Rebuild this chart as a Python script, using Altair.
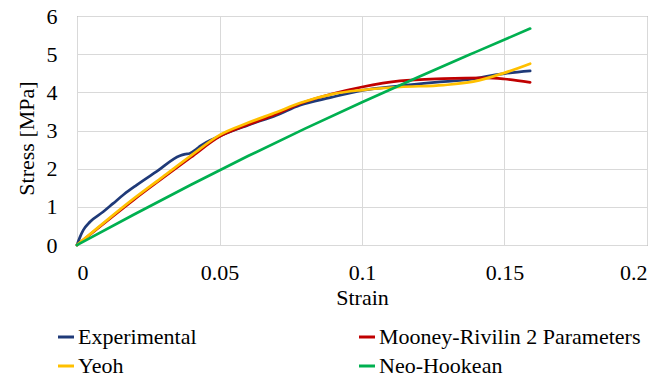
import altair as alt
import pandas as pd

# Experimental
exp_strain = [0.0, 0.001, 0.0022, 0.0046, 0.0092, 0.0127, 0.0165, 0.0209, 0.028, 0.0361, 0.038, 0.0395, 0.042, 0.0432,
              0.05, 0.06, 0.07, 0.0782, 0.0888, 0.1, 0.1133, 0.1286, 0.139, 0.1438, 0.15, 0.159]
exp_stress = [0.0, 0.2, 0.39, 0.61, 0.87, 1.09, 1.33, 1.57, 1.93, 2.34, 2.38, 2.40, 2.52, 2.59,
              2.85, 3.14, 3.40, 3.66, 3.86, 4.05, 4.17, 4.28, 4.35, 4.42, 4.49, 4.56]

# Mooney-Rivilin 2 Parameters
mr_strain = [0.0, 0.01, 0.02, 0.03, 0.04, 0.05, 0.06, 0.07, 0.0782, 0.09, 0.1, 0.1133, 0.1286, 0.1438, 0.15, 0.159]
mr_stress = [0.0, 0.60, 1.19, 1.75, 2.30, 2.84, 3.15, 3.43, 3.70, 3.97, 4.14, 4.30, 4.36, 4.38, 4.35, 4.26]

# Yeoh
ye_strain = [0.0, 0.01, 0.02, 0.03, 0.04, 0.05, 0.06, 0.07, 0.0782, 0.09, 0.1, 0.1133, 0.1286, 0.139, 0.15, 0.159]
ye_stress = [0.0, 0.62, 1.22, 1.78, 2.34, 2.88, 3.20, 3.48, 3.72, 3.96, 4.06, 4.14, 4.19, 4.28, 4.51, 4.75]

# Neo-Hookean
nh_strain = [0.0, 0.02, 0.04, 0.06, 0.08, 0.1, 0.12, 0.14, 0.159]
nh_stress = [0.0, 0.80, 1.58, 2.33, 3.05, 3.74, 4.41, 5.06, 5.67]

series = ["Experimental", "Mooney-Rivilin 2 Parameters", "Yeoh", "Neo-Hookean"]
colors = ["#1F3A78", "#C00000", "#FFC000", "#00B050"]

rows = []
for name, xs, ys in [(series[0], exp_strain, exp_stress), (series[1], mr_strain, mr_stress),
                     (series[2], ye_strain, ye_stress), (series[3], nh_strain, nh_stress)]:
    for i, (a, b) in enumerate(zip(xs, ys)):
        rows.append({"series": name, "strain": a, "stress": b, "i": i})
df = pd.DataFrame(rows)

FONT = "'Liberation Serif', 'Times New Roman', serif"
FS = 22

color = alt.Color("series:N", scale=alt.Scale(domain=series, range=colors),
                  legend=alt.Legend(title=None, orient="none", legendX=-22, legendY=310,
                                    direction="horizontal", columns=2, columnPadding=156,
                                    rowPadding=7, labelLimit=400,
                                    symbolType="stroke", symbolSize=256, symbolStrokeWidth=3,
                                    labelOffset=1, labelFont=FONT, labelFontSize=FS,
                                    labelColor="#000000", padding=0))

x = alt.X("strain:Q", scale=alt.Scale(domain=[0, 0.2], nice=False),
          axis=alt.Axis(values=[0, 0.05, 0.1, 0.15, 0.2], format="~g", title="Strain",
                        labelPadding=17, titlePadding=4))
y = alt.Y("stress:Q", scale=alt.Scale(domain=[0, 6], nice=False),
          axis=alt.Axis(values=[0, 1, 2, 3, 4, 5, 6], title="Stress [MPa]",
                        labelPadding=20, titlePadding=8, titleY=122))

layers = []
for s in series:
    layers.append(
        alt.Chart(df).transform_filter(alt.datum.series == s)
        .mark_line(strokeWidth=2.7, strokeCap="round", strokeJoin="round", interpolate="monotone")
        .encode(x=x, y=y, color=color, order="i:Q")
    )

chart = alt.layer(*layers).properties(
    width=570, height=229,
    background="#FFFFFF",
    autosize=alt.AutoSizeParams(type="none"),
    padding={"left": 77, "top": 16, "right": 13, "bottom": 134},
).configure_view(
    stroke="#767676", strokeWidth=1
).configure_axis(
    grid=True, gridColor="#D9D9D9", gridWidth=1, domain=False, ticks=False,
    labelFont=FONT, labelFontSize=FS, labelColor="#000000",
    titleFont=FONT, titleFontSize=FS, titleFontWeight="normal", titleColor="#000000",
)

chart.save("out.html", embed_options={"renderer": "svg", "actions": False})
